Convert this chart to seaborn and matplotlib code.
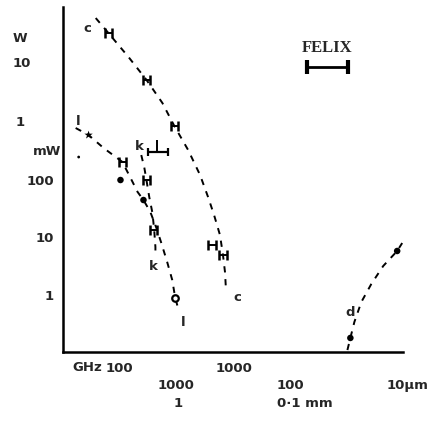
import numpy as np
import pandas as pd
import matplotlib
matplotlib.use("Agg")
import matplotlib.pyplot as plt
import seaborn as sns

# ---------------- data (frequency in GHz, power in W) ----------------
c_freq = [62, 80, 120, 172, 237, 301, 398, 506, 594, 670, 755, 802, 835, 852]
c_pow = [63, 34.6, 13.2, 5.3, 2.1, 0.84, 0.319, 0.117, 0.0486, 0.0237, 0.0106, 0.00476, 0.00241, 0.00117]
c_h_freq = [80, 172, 301, 644, 802]
c_h_pow = [34.6, 5.3, 0.84, 0.0071, 0.00476]

l_freq = [41.4, 53.7, 72.6, 106, 125, 144, 162, 186, 210, 232, 261, 289, 307, 332]
l_pow = [0.771, 0.582, 0.346, 0.198, 0.104, 0.0594, 0.0431, 0.0267, 0.0141, 0.0077, 0.0036, 0.00175, 0.00085, 0.00049]
l_h_freq = [106]
l_h_pow = [0.198]

k_freq = [155, 165, 172, 182, 194, 201, 206, 206]
k_pow = [0.261, 0.155, 0.096, 0.0486, 0.0257, 0.0130, 0.00656, 0.00458]
k_h_freq = [172, 198]
k_h_pow = [0.096, 0.0130]

r_freq = [9800, 10400, 11270, 12970, 15840, 20140, 26660, 29500]
r_pow = [1.06e-4, 1.72e-4, 3.26e-4, 7.26e-4, 1.49e-3, 3.07e-3, 5.6e-3, 7.7e-3]

dot_freq = [102, 162, 10400, 26660]
dot_pow = [0.096, 0.0431, 1.72e-4, 5.6e-3]
star_freq = [53.7]
star_pow = [0.582]
open_freq = [307]
open_pow = [0.00085]
tiny_freq = [44]
tiny_pow = [0.241]

bracket_freq = [214]
bracket_lo = [179]
bracket_hi = [267]
bracket_pow = [0.295]
bracket_top = [0.476]

felix_lo = 4315
felix_hi = 10000
felix_pow = 8.87

label_text = ["c", "c", "k", "k", "l", "l", "d"]
label_freq = [52.7, 1062, 149, 198, 44, 360, 10300]
label_pow = [44, 0.00092, 0.39, 0.00307, 1.06, 0.000326, 5.06e-4]

xtick_vals = [100, 300, 1000, 3000, 10000, 29979]
xtick_labels = ["100", "", "1000", "", "", ""]
ytick_vals = [1e-3, 1e-2, 1e-1, 1, 10]
ytick_labels = ["1", "10", "100", "", ""]

# ---------------- figure ----------------
sns.set_style("white")
plt.rcParams["font.family"] = ["DejaVu Sans"]
plt.rcParams["lines.scale_dashes"] = False
W, H = 434, 427
fig = plt.figure(figsize=(W / 100, H / 100), dpi=100)
ax = fig.add_axes([63 / W, 1 - 352.5 / H, (403 - 63) / W, (352.5 - 7.5) / H])
ax.set_xscale("log")
ax.set_yscale("log")

for fx, py in [(c_freq, c_pow), (l_freq, l_pow), (k_freq, k_pow), (r_freq, r_pow)]:
    df = pd.DataFrame({"f": fx, "p": py})
    sns.lineplot(data=df, x="f", y="p", color="black", linewidth=1.4,
                 estimator=None, sort=False, legend=False, ax=ax)
for ln in ax.lines:
    ln.set_dashes([4.5, 4.8])

# H-shaped markers (small horizontal error bars)
for fx, py in [(c_h_freq, c_h_pow), (l_h_freq, l_h_pow), (k_h_freq, k_h_pow)]:
    fx = np.array(fx, float)
    ax.errorbar(fx, py, xerr=[fx - fx / 1.075, fx * 1.075 - fx], fmt="none",
                ecolor="black", elinewidth=1.4, capsize=3.8, capthick=1.8)

# bracket point
bf = np.array(bracket_freq, float)
ax.errorbar(bf, bracket_pow, xerr=[bf - np.array(bracket_lo), np.array(bracket_hi) - bf],
            fmt="none", ecolor="black", elinewidth=1.6, capsize=3.2, capthick=1.6)
ax.errorbar(bf, bracket_pow, yerr=[[0], [bracket_top[0] - bracket_pow[0]]],
            fmt="none", ecolor="black", elinewidth=1.4, capsize=0)

# FELIX range
fc = np.sqrt(felix_lo * felix_hi)
ax.errorbar([fc], [felix_pow], xerr=[[fc - felix_lo], [felix_hi - fc]], fmt="none",
            ecolor="black", elinewidth=2.0, capsize=5, capthick=3)
ax.text(fc, 19.8, "FELIX", ha="center", va="center", fontsize=12,
        fontweight="bold", family=["Liberation Serif", "DejaVu Serif"])

sns.scatterplot(x=dot_freq, y=dot_pow, color="black", s=22, edgecolor="none", ax=ax, legend=False)
sns.scatterplot(x=star_freq, y=star_pow, color="black", s=40, marker="*", edgecolor="none", ax=ax, legend=False)
sns.scatterplot(x=tiny_freq, y=tiny_pow, color="black", s=4, edgecolor="none", ax=ax, legend=False)
ax.scatter(open_freq, open_pow, s=22, facecolor="white", edgecolor="black", linewidth=1.6, zorder=3)

for t, fx, py in zip(label_text, label_freq, label_pow):
    ax.text(fx, py, t, ha="center", va="center", fontsize=9.5, fontweight="bold")

ax.set_xlim(32.1, 29979)
ax.set_ylim(1e-4, 1e2)
ax.xaxis.set_minor_locator(matplotlib.ticker.NullLocator())
ax.yaxis.set_minor_locator(matplotlib.ticker.NullLocator())
ax.set_xticks(xtick_vals)
ax.set_xticklabels(xtick_labels)
ax.set_yticks(ytick_vals)
ax.set_yticklabels(ytick_labels)
ax.set_xlabel("")
ax.set_ylabel("")
ax.tick_params(axis="both", direction="out", length=4.5, width=1.3, color="black",
               labelsize=9.5, pad=2)
for lab in ax.get_xticklabels() + ax.get_yticklabels():
    lab.set_fontweight("bold")
for s in ["top", "right"]:
    ax.spines[s].set_visible(False)
for s in ["left", "bottom"]:
    ax.spines[s].set_linewidth(1.8)
    ax.spines[s].set_color("black")

# extra axis text (pixel positions)
def ftext(x, y, s, **kw):
    kw.setdefault("fontsize", 9.5)
    kw.setdefault("fontweight", "bold")
    fig.text(x / W, 1 - y / H, s, ha="center", va="center", **kw)

ftext(20, 38, "W")
ftext(22, 64, "10")
ftext(20, 122, "1")
ftext(47, 152, "mW")
ftext(87, 368, "GHz")
ftext(176, 386, "1000")
ftext(290, 386, "100")
ftext(407, 386, "10µm")
ftext(178, 404, "1")
ftext(305, 404, "0·1 mm")

fig.savefig("out.png", dpi=100)
